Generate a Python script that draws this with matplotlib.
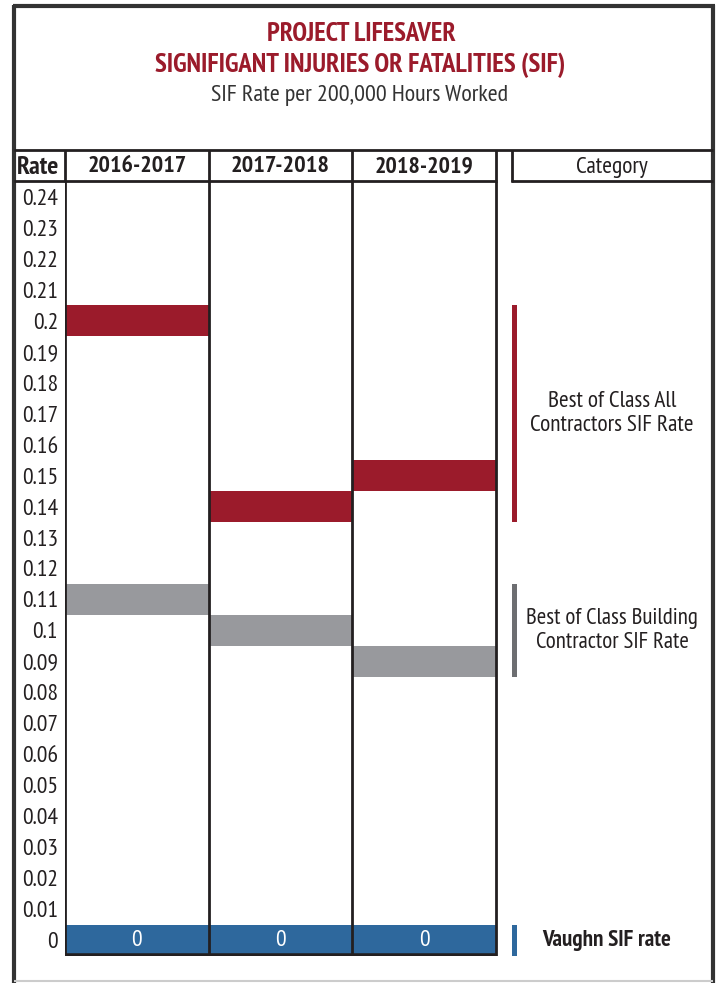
import matplotlib
matplotlib.use("Agg")
import matplotlib.pyplot as plt
from matplotlib.lines import Line2D
from matplotlib import font_manager as fm

_installed = {f.name for f in fm.fontManager.ttflist}
_prefs = ["Myriad Pro Condensed", "PT Sans Narrow", "Fira Sans Condensed", "Roboto Condensed",
          "Encode Sans Condensed", "Sofia Sans Condensed", "Liberation Sans"]
FONT = next((p for p in _prefs if p in _installed), "DejaVu Sans")
plt.rcParams['font.family'] = [FONT, 'DejaVu Sans']

# ---- data ----
periods = ["2016-2017", "2017-2018", "2018-2019"]
all_contractors = [0.20, 0.14, 0.15]
building_contractors = [0.11, 0.10, 0.09]
vaughn = [0.0, 0.0, 0.0]
rate_ticks = [0.24, 0.23, 0.22, 0.21, 0.20, 0.19, 0.18, 0.17, 0.16, 0.15, 0.14, 0.13,
              0.12, 0.11, 0.10, 0.09, 0.08, 0.07, 0.06, 0.05, 0.04, 0.03, 0.02, 0.01, 0.0]
categories = ["Best of Class All\nContractors SIF Rate",
              "Best of Class Building\nContractor SIF Rate",
              "Vaughn SIF rate"]
title1 = "PROJECT LIFESAVER"
title2 = "SIGNIFIGANT INJURIES OR FATALITIES (SIF)"
subtitle = "SIF Rate per 200,000 Hours Worked"

RED = "#9b1b2b"
GRAY = "#98999d"
DGRAY = "#6d6e71"
BLUE = "#2e689d"
TXT = "#231f20"

W, H = 716, 983
fig = plt.figure(figsize=(W / 100, H / 100), dpi=100)
renderer = fig.canvas.get_renderer()


def fit(t, target_w):
    for _ in range(3):
        w = t.get_window_extent(renderer).width
        if w <= 0:
            break
        t.set_fontsize(t.get_fontsize() * target_w / w)
    return t.get_fontsize()


# background axes in pixel coords
bg = fig.add_axes([0, 0, 1, 1])
bg.set_xlim(0, W)
bg.set_ylim(H, 0)
bg.axis("off")


def hline(y, x0, x1, lw=2, c=TXT):
    bg.add_line(Line2D([x0, x1], [y, y], lw=lw, color=c, solid_capstyle="butt"))


def vline(x, y0, y1, lw=2, c=TXT):
    bg.add_line(Line2D([x, x], [y0, y1], lw=lw, color=c, solid_capstyle="butt"))


# outer frame
hline(6, 13, 715, lw=3, c="#333333")
vline(14, 5, 983, lw=3, c="#333333")
vline(713, 5, 983, lw=3, c="#333333")
hline(981, 14, 713, lw=1.5, c="#cccccc")

# titles
t = bg.text(361, 34, title1, ha="center", va="center", fontsize=15, fontweight="bold", color=RED)
fit(t, 189)
t = bg.text(360, 65, title2, ha="center", va="center", fontsize=15, fontweight="bold", color=RED)
fit(t, 410)
t = bg.text(360, 96, subtitle, ha="center", va="center", fontsize=14, color="#333333")
fit(t, 297)

# header row
hline(150, 14, 713, lw=2)
hline(181, 14, 497, lw=2)
hline(181, 511, 713, lw=2)
vline(512, 150, 182, lw=2)
t = bg.text(38, 167, "Rate", ha="center", va="center", fontsize=14, fontweight="bold", color=TXT)
fit(t, 42)
col_left = 65
col_w = (496 - 65) / 3
for i, p in enumerate(periods):
    t = bg.text(col_left + col_w * (i + 0.5), 167, p, ha="center", va="center",
                fontsize=14, fontweight="bold", color=TXT)
    fit(t, 99)
t = bg.text(612, 167, "Category", ha="center", va="center", fontsize=14, color=TXT)
fit(t, 72)

# tick font size from the width of "0.24"
probe = bg.text(0, 0, "0.24", fontsize=14)
TICK_FS = fit(probe, 36)
probe.remove()

# data axes
left_px, right_px = 65, 713
top_px, bot_px = 181.5, 955.5
ax = fig.add_axes([left_px / W, 1 - bot_px / H, (right_px - left_px) / W, (bot_px - top_px) / H])
ax.set_ylim(-0.005, 0.245)
xmax = (right_px - left_px) / col_w
ax.set_xlim(0, xmax)
for s in ax.spines.values():
    s.set_visible(False)
ax.set_xticks([])
ax.set_yticks(rate_ticks)
ax.set_yticklabels([f"{v:g}" for v in rate_ticks], fontsize=TICK_FS, color=TXT)
ax.tick_params(axis="y", length=0, pad=5)
ax.patch.set_alpha(0)

xs = [i + 0.5 for i in range(len(periods))]
band = 0.01
ax.bar(xs, [band] * 3, bottom=[v - band / 2 for v in all_contractors], width=1.0, color=RED, zorder=2)
ax.bar(xs, [band] * 3, bottom=[v - band / 2 for v in building_contractors], width=1.0, color=GRAY, zorder=2)
ax.bar(xs, [band] * 3, bottom=[v - band / 2 for v in vaughn], width=1.0, color=BLUE, zorder=2)
for x, v in zip(xs, vaughn):
    ax.text(x, v, f"{v:g}", ha="center", va="center", color="white", fontsize=TICK_FS, zorder=4)

# column separators
for i in range(len(periods) + 1):
    ax.axvline(i, ymin=0, ymax=1, color=TXT, lw=2, zorder=3)
for i in range(len(periods) + 1):
    vline(col_left + col_w * i, 150, 182, lw=2)
# bottom thick line
ax.plot([0, len(periods)], [-0.005, -0.005], color=TXT, lw=4, zorder=5, solid_capstyle="butt")

# category strips
cx0 = (512 - left_px) / col_w
cw = 5 / col_w
groups = [all_contractors, building_contractors, vaughn]
strip_colors = [RED, DGRAY, BLUE]
label_widths = [163, 173, 129]
label_x = [612, 612, 607]
for g, c, lab, lw_, lx in zip(groups, strip_colors, categories, label_widths, label_x):
    lo, hi = min(g) - band / 2, max(g) + band / 2
    ax.bar(cx0 + cw / 2, hi - lo, bottom=lo, width=cw, color=c)
    bold = lab.startswith("Vaughn")
    t = ax.text((lx - left_px) / col_w, (lo + hi) / 2, lab, ha="center", va="center", fontsize=14,
                color=TXT, fontweight="bold" if bold else "normal", linespacing=1.2,
                multialignment="center")
    fit(t, lw_)

fig.savefig("out.png", dpi=100)
